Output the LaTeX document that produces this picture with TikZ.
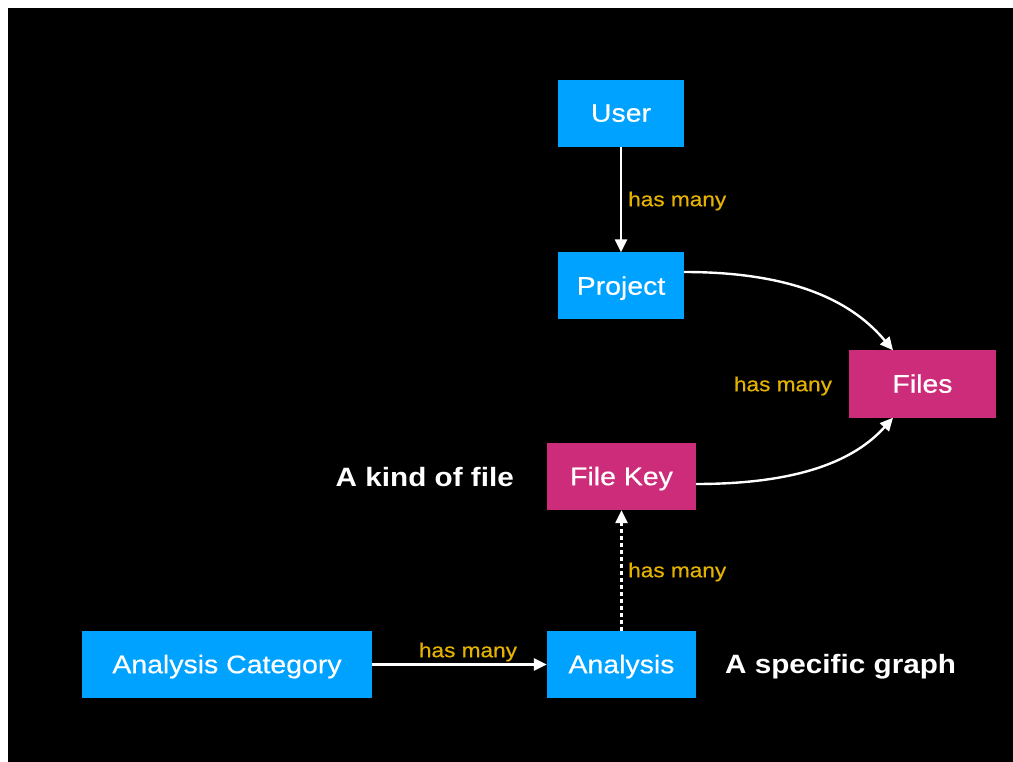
\documentclass[tikz,border=0pt]{standalone}
\usepackage{fontspec}
\setmainfont{Liberation Sans}[FakeStretch=1.12]
\newfontfamily\medfont{Liberation Sans}[FakeStretch=1.12, FakeBold=0.5]
\usetikzlibrary{arrows.meta,calc}
\definecolor{boxblue}{RGB}{0,162,255}
\definecolor{boxpink}{RGB}{204,44,122}
\definecolor{relyellow}{RGB}{228,178,0}
\tikzset{
  x=1pt, y=-1pt,
  entity/.style={minimum height=67pt, inner sep=0pt, text=white,
    font=\medfont\fontsize{25.4}{30}\selectfont, text depth=1pt},
  bluebox/.style={entity, fill=boxblue},
  pinkbox/.style={entity, fill=boxpink},
  rel/.style={text=relyellow, font=\medfont\fontsize{20.2}{24}\selectfont, inner sep=0pt},
  note/.style={text=white, font=\bfseries\fontsize{26.5}{32}\selectfont, inner sep=0pt},
  link/.style={draw=white, line width=2.4pt, -{Triangle[length=13pt,width=12pt]}},
}
\begin{document}
\begin{tikzpicture}
\useasboundingbox (0,0) rectangle (1013,762);
\fill[white] (0,0) rectangle (1013,762);
\fill[black] (8,8) rectangle (1013,762);

% entities
\node[bluebox, minimum width=126pt] (user) at (621,113.5) {User};
\node[bluebox, minimum width=126pt] (proj) at (621,286) {Project};
\node[pinkbox, minimum width=147pt] (files) at (922.5,384) {Files};
\node[pinkbox, minimum width=149pt] (fkey) at (621.5,476.5) {File Key};
\node[bluebox, minimum width=149pt] (ana) at (621.5,664.5) {Analysis};
\node[bluebox, minimum width=290pt] (cat) at (227,664.5) {Analysis Category};

% notes
\node[note, anchor=east] (kindnote) at (514,477) {A kind of file};
\node[note, anchor=west] (specnote) at (725,667) {A specific graph};

% relations
\draw[link] (user) -- (proj);
\node[rel, anchor=west] (r1) at (628,201) {has many};

\coordinate (ftop) at ($(files.north west)!0.3!(files.north east)$);
\coordinate (fbot) at ($(files.south west)!0.3!(files.south east)$);
\draw[link] ([yshift=14pt]proj.east) .. controls (800,272) and (855,305) .. (ftop);
\draw[link] ([yshift=-7.5pt]fkey.east) .. controls (800,484) and (855,460) .. (fbot);
\node[rel] (r2) at (783,386) {has many};

\draw[link, dash pattern=on 4pt off 3pt] (ana) -- (fkey);
\node[rel, anchor=west] (r3) at (628,572) {has many};

\draw[link] (cat) -- (ana);
\node[rel] (r4) at (468,652) {has many};
\end{tikzpicture}
\end{document}
